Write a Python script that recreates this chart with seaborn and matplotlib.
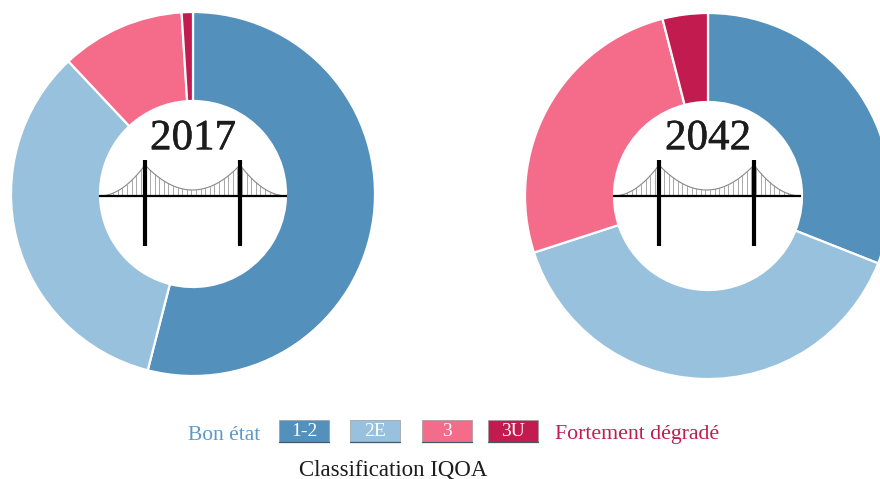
import numpy as np
import matplotlib.pyplot as plt
import matplotlib.patheffects as pe
import seaborn as sns
from matplotlib.patches import Rectangle

# classes IQOA
classes = ["1-2", "2E", "3", "3U"]
parts_2017 = [54, 34, 11, 1]
parts_2042 = [31, 39, 26, 4]
couleurs = ["#5490BC", "#97C1DD", "#F56C8B", "#C21B50"]

sns.set_theme(style="white")
plt.rcParams["font.family"] = ["Liberation Serif", "DejaVu Serif"]

H = 479
fig = plt.figure(figsize=(8.8, 4.79), dpi=100)
ax = fig.add_axes([0, 0, 1, 1])


def donut(valeurs, cx, cy, r, r_in, annee):
    ax.pie(valeurs, colors=couleurs, center=(cx, H - cy), radius=r,
           startangle=90, counterclock=False,
           wedgeprops=dict(width=r - r_in, edgecolor="white", linewidth=1.6))
    t = ax.text(cx, H - 139, annee, ha="center", va="center",
                fontsize=31, color="#1c1c1c")
    t.set_path_effects([pe.withStroke(linewidth=0.35, foreground="#1c1c1c")])


def pont(x0):
    # pylones et tablier, x0 = bord gauche du tablier
    t1, t2 = x0 + 46, x0 + 141
    fin = x0 + 188
    y_deck = H - 196
    y_top = H - 165
    y_bas = H - 190
    xs = np.arange(x0 + 5, fin, 4.6)
    for x in xs:
        if x < t1:
            y = y_deck + (y_top - y_deck) * ((x - x0) / 46) ** 2
        elif x < t2:
            u = (x - (t1 + t2) / 2) / ((t2 - t1) / 2)
            y = y_bas + (y_top - y_bas) * u ** 2
        else:
            y = y_deck + (y_top - y_deck) * ((fin - x) / 47) ** 2
        ax.plot([x, x], [y_deck, y], color="#a8a8a8", lw=0.7, zorder=3)
    xa = np.linspace(x0, t1, 40)
    ax.plot(xa, y_deck + (y_top - y_deck) * ((xa - x0) / 46) ** 2,
            color="#888888", lw=0.8, zorder=3)
    xb = np.linspace(t1, t2, 60)
    ub = (xb - (t1 + t2) / 2) / ((t2 - t1) / 2)
    ax.plot(xb, y_bas + (y_top - y_bas) * ub ** 2,
            color="#888888", lw=0.8, zorder=3)
    xc = np.linspace(t2, fin, 40)
    ax.plot(xc, y_deck + (y_top - y_deck) * ((fin - xc) / 47) ** 2,
            color="#888888", lw=0.8, zorder=3)
    ax.plot([x0, fin], [y_deck, y_deck], color="black", lw=1.6, zorder=4,
            solid_capstyle="butt")
    for t in (t1, t2):
        ax.plot([t, t], [H - 160, H - 246], color="black", lw=3.0, zorder=4,
                solid_capstyle="butt")


donut(parts_2017, 193, 194, 182, 93, "2017")
donut(parts_2042, 708, 196, 183, 94, "2042")
pont(99)
pont(613)

# legende
boites = [279, 350, 422, 488]
for x, c, nom in zip(boites, couleurs, classes):
    ax.add_patch(Rectangle((x, H - 442), 50, 22, facecolor=c,
                           edgecolor="#9a9a9a", linewidth=0.5, zorder=2))
    ax.plot([x, x + 50], [H - 442, H - 442], color="#44586a", lw=0.9, zorder=3)
    ax.text(x + 25, H - 431, nom, ha="center", va="center", color="white", fontsize=14)

ax.text(224, H - 435, "Bon état", ha="center", va="center", color="#5B9AC6", fontsize=15.5)
ax.text(637, H - 435, "Fortement dégradé", ha="center", va="center", color="#C21B50", fontsize=15.7)
ax.text(393, H - 470, "Classification IQOA", ha="center", va="center", color="#1c1c1c", fontsize=16.5)

ax.set_xlim(0, 880)
ax.set_ylim(0, H)
ax.set_aspect("equal")
ax.axis("off")

fig.savefig("out.png", dpi=100, facecolor="white")
